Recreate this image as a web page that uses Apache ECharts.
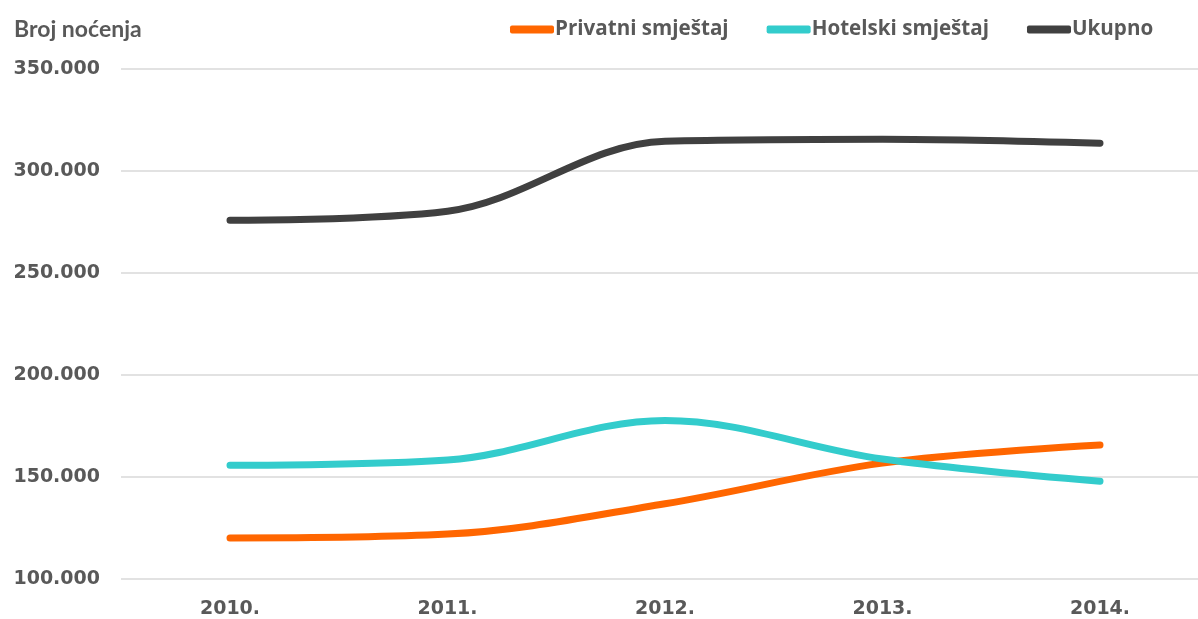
<!DOCTYPE html>
<html>
<head>
<meta charset="utf-8">
<script src="https://cdn.jsdelivr.net/npm/echarts@6/dist/echarts.min.js"></script>
<style>
  html, body { margin: 0; padding: 0; background: #fff; }
  #chart { width: 1198px; height: 619px; }
</style>
</head>
<body>
<div id="chart"></div>
<script>
// Overnight stays by accommodation type, 2010–2014
const years = ['2010.', '2011.', '2012.', '2013.', '2014.'];
const privatni = [120100, 122000, 136900, 156800, 165700];
const hotelski = [155700, 158300, 177700, 158800, 147900];
const ukupno = [275800, 280300, 314600, 315600, 313600];

const seriesNames = ['Privatni smještaj', 'Hotelski smještaj', 'Ukupno'];
const seriesColors = ['#FF6600', '#33CCCC', '#404040'];
const seriesData = [privatni, hotelski, ukupno];

const yMin = 100000;
const yMax = 350000;
const yStep = 50000;

const textColor = '#595959';

function formatThousands(v) {
  return String(v).replace(/\B(?=(\d{3})+(?!\d))/g, '.');
}

const chart = echarts.init(document.getElementById('chart'), null, { renderer: 'canvas' });

// Grid 0 carries the value axis and horizontal gridlines across the full width;
// grid 1 holds the year categories and the lines, inset so years sit centred in their bands.
chart.setOption({
  animation: false,
  backgroundColor: '#ffffff',
  title: {
    text: 'Broj noćenja',
    left: 9,
    top: 13,
    textStyle: { fontFamily: 'Lato', fontWeight: 'bold', fontSize: 23, color: textColor }
  },
  legend: {
    data: seriesNames,
    left: 505,
    top: 14,
    itemWidth: 44,
    itemHeight: 8,
    itemGap: 38,
    icon: 'roundRect',
    textStyle: { fontFamily: 'Open Sans', fontWeight: 'bold', fontSize: 20.6, color: textColor, padding: [0, 0, 0, -4] }
  },
  grid: [
    { left: 121, top: 69, bottom: 40, right: 0 },
    { left: 230, top: 69, bottom: 40, right: 98 }
  ],
  xAxis: [
    { type: 'category', gridIndex: 0, data: years, show: false },
    {
      type: 'category',
      gridIndex: 1,
      data: years,
      boundaryGap: false,
      axisLine: { show: false },
      axisTick: { show: false },
      splitLine: { show: false },
      axisLabel: {
        margin: 21,
        fontFamily: 'DejaVu Sans',
        fontWeight: 'bold',
        fontSize: 19,
        color: textColor
      }
    }
  ],
  yAxis: [
    {
      type: 'value',
      gridIndex: 0,
      min: yMin,
      max: yMax,
      interval: yStep,
      axisLine: { show: false },
      axisTick: { show: false },
      splitLine: { lineStyle: { color: '#D9D9D9', width: 1.5 } },
      axisLabel: {
        margin: 21,
        fontFamily: 'DejaVu Sans',
        fontWeight: 'bold',
        fontSize: 19,
        color: textColor,
        formatter: formatThousands
      }
    },
    {
      type: 'value',
      gridIndex: 1,
      min: yMin,
      max: yMax,
      interval: yStep,
      show: false,
      splitLine: { show: false }
    }
  ],
  series: seriesNames.map((name, i) => ({
    name: name,
    type: 'line',
    xAxisIndex: 1,
    yAxisIndex: 1,
    data: seriesData[i],
    smooth: 0.35,
    symbol: 'none',
    color: seriesColors[i],
    lineStyle: { width: 7, color: seriesColors[i], cap: 'round', join: 'round' }
  }))
});
</script>
</body>
</html>
